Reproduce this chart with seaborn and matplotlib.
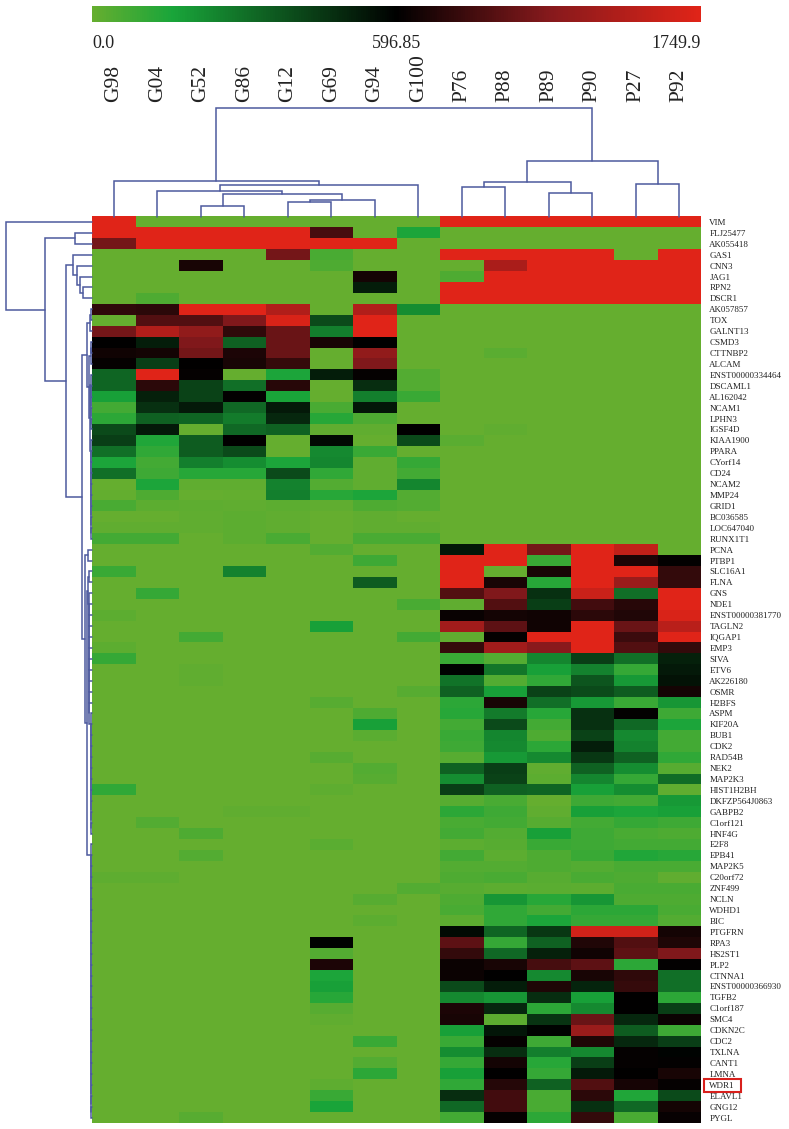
#!/usr/bin/env python3
import matplotlib
matplotlib.use('Agg')
import matplotlib.pyplot as plt
import matplotlib.colors as mcolors
from matplotlib.patches import Rectangle
import pandas as pd
import numpy as np
import seaborn as sns

samples = ['G98', 'G04', 'G52', 'G86', 'G12', 'G69', 'G94', 'G100',
           'P76', 'P88', 'P89', 'P90', 'P27', 'P92']

genes = ['VIM', 'FLJ25477', 'AK055418', 'GAS1', 'CNN3', 'JAG1', 'RPN2', 'DSCR1',
         'AK057857', 'TOX', 'GALNT13', 'CSMD3', 'CTTNBP2', 'ALCAM',
         'ENST00000334464', 'DSCAML1', 'AL162042', 'NCAM1', 'LPHN3', 'IGSF4D',
         'KIAA1900', 'PPARA', 'CYorf14', 'CD24', 'NCAM2', 'MMP24', 'GRID1',
         'BC036585', 'LOC647040', 'RUNX1T1', 'PCNA', 'PTBP1', 'SLC16A1', 'FLNA',
         'GNS', 'NDE1', 'ENST00000381770', 'TAGLN2', 'IQGAP1', 'EMP3', 'SIVA',
         'ETV6', 'AK226180', 'OSMR', 'H2BFS', 'ASPM', 'KIF20A', 'BUB1', 'CDK2',
         'RAD54B', 'NEK2', 'MAP2K3', 'HIST1H2BH', 'DKFZP564J0863', 'GABPB2',
         'C1orf121', 'HNF4G', 'E2F8', 'EPB41', 'MAP2K5', 'C20orf72', 'ZNF499',
         'NCLN', 'WDHD1', 'BIC', 'PTGFRN', 'RPA3', 'HS2ST1', 'PLP2', 'CTNNA1',
         'ENST00000366930', 'TGFB2', 'C1orf187', 'SMC4', 'CDKN2C', 'CDC2',
         'TXLNA', 'CANT1', 'LMNA', 'WDR1', 'ELAVL1', 'GNG12', 'PYGL']

# expression, one row per gene
g_values = [
    [1750, 0, 0, 0, 0, 0, 0, 0],
    [1750, 1750, 1750, 1750, 1750, 900, 0, 150],
    [1100, 1750, 1750, 1750, 1750, 1750, 1750, 0],
    [0, 0, 0, 0, 1100, 60, 0, 0],
    [0, 0, 700, 0, 0, 50, 0, 0],
    [0, 0, 0, 0, 0, 0, 680, 0],
    [0, 0, 0, 0, 0, 0, 520, 0],
    [0, 50, 0, 0, 0, 0, 0, 0],
    [800, 780, 1750, 1750, 1450, 0, 1450, 220],
    [0, 950, 950, 1150, 1700, 400, 1750, 0],
    [1100, 1450, 1250, 800, 1050, 260, 1750, 0],
    [600, 520, 1150, 340, 1050, 700, 600, 0],
    [660, 680, 1100, 720, 1050, 0, 1250, 0],
    [620, 430, 600, 700, 830, 0, 1150, 0],
    [330, 1750, 620, 0, 150, 520, 620, 40],
    [330, 780, 420, 300, 760, 0, 480, 40],
    [170, 510, 420, 610, 160, 0, 260, 90],
    [70, 470, 530, 320, 530, 60, 540, 0],
    [120, 340, 330, 270, 490, 130, 50, 0],
    [400, 530, 0, 320, 340, 10, 10, 600],
    [430, 140, 350, 600, 0, 570, 0, 400],
    [300, 110, 350, 400, 0, 230, 90, 0],
    [150, 70, 260, 220, 150, 240, 10, 100],
    [300, 80, 130, 130, 400, 110, 10, 70],
    [0, 150, 10, 10, 250, 40, 10, 240],
    [5, 50, 0, 5, 260, 130, 150, 40],
    [60, 20, 15, 10, 20, 10, 50, 40],
    [0, 0, 10, 20, 10, 0, 10, 0],
    [10, 10, 10, 20, 10, 0, 10, 10],
    [70, 70, 0, 20, 60, 0, 60, 60],
    [0, 0, 0, 0, 0, 40, 0, 0],
    [0, 0, 0, 0, 0, 0, 80, 0],
    [90, 0, 0, 250, 0, 0, 0, 0],
    [0, 0, 0, 0, 0, 0, 350, 0],
    [0, 100, 0, 0, 0, 0, 0, 0],
    [0, 0, 0, 0, 0, 0, 0, 60],
    [20, 0, 0, 0, 0, 0, 0, 0],
    [0, 0, 0, 0, 0, 170, 0, 0],
    [0, 0, 70, 0, 0, 0, 0, 70],
    [20, 0, 0, 0, 0, 0, 0, 0],
    [100, 0, 0, 0, 0, 0, 0, 0],
    [0, 0, 10, 0, 0, 0, 0, 0],
    [0, 0, 10, 0, 0, 0, 0, 0],
    [0, 0, 0, 0, 0, 0, 0, 30],
    [0, 0, 0, 0, 0, 30, 0, 0],
    [0, 0, 0, 0, 0, 0, 50, 0],
    [0, 0, 0, 0, 0, 0, 170, 0],
    [0, 0, 0, 0, 0, 0, 25, 0],
    [0, 0, 0, 0, 0, 0, 0, 0],
    [0, 0, 0, 0, 0, 30, 0, 0],
    [0, 0, 0, 0, 0, 0, 40, 0],
    [0, 0, 0, 0, 0, 0, 30, 0],
    [110, 0, 0, 0, 0, 15, 0, 0],
    [0, 0, 0, 0, 0, 0, 0, 0],
    [0, 0, 0, 10, 10, 0, 0, 0],
    [0, 40, 0, 0, 0, 0, 0, 0],
    [0, 0, 50, 0, 0, 0, 0, 0],
    [0, 0, 0, 0, 0, 25, 0, 0],
    [0, 0, 40, 0, 0, 0, 0, 0],
    [0, 0, 0, 0, 0, 0, 0, 0],
    [15, 15, 0, 0, 0, 0, 0, 0],
    [0, 0, 0, 0, 0, 0, 0, 40],
    [0, 0, 0, 0, 0, 0, 30, 0],
    [0, 0, 0, 0, 0, 0, 0, 0],
    [0, 0, 0, 0, 0, 0, 20, 0],
    [0, 0, 0, 0, 0, 0, 0, 0],
    [0, 0, 0, 0, 0, 590, 0, 0],
    [0, 0, 0, 0, 0, 40, 0, 0],
    [0, 0, 0, 0, 0, 720, 0, 0],
    [0, 0, 0, 0, 0, 150, 0, 0],
    [0, 0, 0, 0, 0, 170, 0, 0],
    [0, 0, 0, 0, 0, 130, 0, 0],
    [0, 0, 0, 0, 0, 30, 0, 0],
    [0, 0, 0, 0, 0, 10, 0, 0],
    [0, 0, 0, 0, 0, 0, 0, 0],
    [0, 0, 0, 0, 0, 0, 90, 0],
    [0, 0, 0, 0, 0, 0, 0, 0],
    [0, 0, 0, 0, 0, 0, 40, 0],
    [0, 0, 0, 0, 0, 0, 120, 0],
    [0, 0, 0, 0, 0, 15, 0, 0],
    [0, 0, 0, 0, 0, 90, 0, 0],
    [0, 0, 0, 0, 0, 160, 0, 0],
    [0, 0, 30, 0, 0, 0, 0, 0],
]

p_values = [
    [1750, 1750, 1750, 1750, 1750, 1750],
    [0, 0, 0, 0, 0, 0],
    [0, 0, 0, 0, 0, 0],
    [1750, 1750, 1750, 1750, 0, 1750],
    [0, 1400, 1750, 1750, 1750, 1750],
    [50, 1750, 1750, 1750, 1750, 1750],
    [1750, 1750, 1750, 1750, 1750, 1750],
    [1750, 1750, 1750, 1750, 1750, 1750],
    [0, 0, 0, 0, 0, 0],
    [0, 0, 0, 0, 0, 0],
    [0, 0, 0, 0, 0, 0],
    [0, 0, 0, 0, 0, 0],
    [0, 25, 0, 0, 0, 0],
    [0, 0, 0, 0, 0, 0],
    [0, 0, 0, 0, 0, 0],
    [0, 0, 0, 0, 0, 0],
    [0, 0, 0, 0, 0, 0],
    [0, 0, 0, 0, 0, 0],
    [0, 0, 0, 0, 0, 0],
    [0, 10, 0, 0, 0, 0],
    [25, 0, 0, 0, 0, 0],
    [0, 0, 0, 0, 0, 0],
    [0, 0, 0, 0, 0, 0],
    [0, 0, 0, 0, 0, 0],
    [0, 0, 0, 0, 0, 0],
    [0, 0, 0, 0, 0, 0],
    [0, 0, 0, 0, 0, 0],
    [0, 0, 0, 0, 0, 0],
    [0, 0, 0, 0, 0, 0],
    [0, 0, 0, 0, 0, 0],
    [540, 1750, 1100, 1750, 1550, 0],
    [1750, 1750, 90, 1750, 720, 610],
    [1750, 0, 700, 1750, 1750, 820],
    [1750, 700, 130, 1750, 1300, 820],
    [950, 1150, 470, 1600, 300, 1750],
    [10, 950, 430, 880, 760, 1750],
    [640, 680, 660, 780, 740, 1700],
    [1350, 1000, 660, 1750, 1050, 1500],
    [10, 620, 1750, 1750, 850, 1750],
    [830, 1350, 1200, 1750, 950, 820],
    [90, 40, 240, 430, 300, 510],
    [590, 280, 170, 250, 100, 530],
    [290, 40, 110, 370, 190, 550],
    [340, 170, 420, 400, 350, 680],
    [120, 700, 300, 190, 90, 200],
    [130, 270, 130, 470, 610, 80],
    [70, 400, 70, 470, 320, 150],
    [90, 240, 50, 420, 230, 70],
    [80, 230, 120, 520, 250, 70],
    [30, 190, 230, 450, 340, 110],
    [340, 430, 10, 340, 220, 30],
    [220, 420, 20, 240, 100, 310],
    [430, 340, 330, 170, 220, 10],
    [30, 60, 0, 80, 70, 190],
    [120, 80, 10, 170, 150, 170],
    [60, 70, 30, 70, 100, 80],
    [70, 40, 170, 80, 60, 50],
    [20, 30, 90, 80, 70, 70],
    [70, 20, 50, 90, 140, 130],
    [40, 40, 50, 40, 60, 60],
    [50, 60, 30, 60, 50, 10],
    [30, 20, 25, 20, 60, 60],
    [50, 200, 130, 200, 50, 50],
    [60, 110, 70, 120, 120, 60],
    [20, 110, 150, 100, 100, 40],
    [570, 330, 450, 1650, 1650, 680],
    [1000, 100, 340, 740, 950, 730],
    [820, 320, 510, 660, 1000, 1150],
    [650, 700, 900, 1000, 120, 610],
    [650, 600, 230, 700, 800, 300],
    [400, 520, 730, 500, 830, 300],
    [230, 200, 480, 170, 600, 120],
    [720, 490, 120, 230, 600, 430],
    [700, 20, 460, 1050, 490, 650],
    [170, 540, 590, 1300, 350, 80],
    [90, 620, 80, 730, 490, 430],
    [220, 480, 260, 230, 620, 590],
    [100, 680, 130, 430, 620, 610],
    [170, 600, 100, 530, 600, 700],
    [110, 750, 340, 950, 690, 620],
    [480, 880, 60, 780, 140, 400],
    [320, 880, 60, 470, 320, 680],
    [70, 620, 120, 820, 60, 630],
]

scale_ticks = [0.0, 596.85, 1749.9]
scale_labels = ['0.0', '596.85', '1749.9']

# merges as (first, split, last, height): first..split joins split+1..last
col_merges = [
    (2, 2, 3, 10.7), (4, 4, 5, 14.3), (4, 5, 6, 16.3), (2, 3, 6, 22.7),
    (1, 1, 6, 26), (1, 6, 7, 32), (0, 0, 7, 36), (8, 8, 9, 29.3),
    (10, 10, 11, 24), (8, 9, 11, 35), (12, 12, 13, 33), (8, 11, 13, 56),
    (0, 7, 13, 108.3),
]


def chain(first, last, end, height):
    """Comb of single rows, each joining the cluster below it."""
    return [(k, k, end, height) for k in range(last, first - 1, -1)]


row_merges = (
    [(1, 1, 2, 17.5), (6, 6, 7, 8.7), (5, 5, 7, 12), (4, 4, 7, 14.7), (3, 3, 7, 18.7)]
    + [(8, 8, 9, 1.2), (8, 9, 10, 2), (11, 11, 12, 1), (11, 12, 13, 1.5)]
    + chain(14, 18, 19, 1.5) + chain(20, 28, 29, 1.2)
    + [(14, 19, 29, 2), (11, 13, 29, 3), (8, 10, 29, 5.3)]
    + chain(45, 55, 56, 1.4) + chain(37, 44, 56, 2.6) + chain(34, 36, 56, 3)
    + [(32, 32, 33, 3.2), (32, 33, 56, 3.6)]
    + chain(57, 81, 82, 1.5)
    + [(32, 56, 82, 5.3), (30, 30, 31, 3.7), (30, 31, 82, 7), (8, 29, 82, 10.3),
       (3, 7, 82, 26), (1, 2, 82, 47), (0, 0, 82, 86)]
)

W, H = 789, 1129
TREE_COLOR = '#4d5a9e'


def px_axes(fig, left, top, right, bottom):
    return fig.add_axes([left / W, 1 - bottom / H, (right - left) / W, (bottom - top) / H])


def draw_tree(ax, merges, n, horizontal):
    """Draw a dendrogram; leaves sit on the cell centres."""
    nodes = {(i, i): (i + 0.5, 0.0) for i in range(n)}
    for first, split, last, height in merges:
        pos_a, h_a = nodes[(first, split)]
        pos_b, h_b = nodes[(split + 1, last)]
        pos = [pos_a, pos_a, pos_b, pos_b]
        hts = [h_a, height, height, h_b]
        xs, ys = (hts, pos) if horizontal else (pos, hts)
        ax.plot(xs, ys, color=TREE_COLOR, lw=1.1, clip_on=False, solid_joinstyle='miter')
        nodes[(first, last)] = ((pos_a + pos_b) / 2, height)


sns.set_theme(style='white')
plt.rcParams['font.family'] = ['Liberation Serif', 'DejaVu Serif']

df = pd.DataFrame(np.hstack([np.array(g_values), np.array(p_values)]).astype(float),
                  index=genes, columns=samples)

cmap = mcolors.LinearSegmentedColormap.from_list('expr', [
    (0.0, '#65ae2f'), (0.13, '#19a53a'), (0.5, '#000000'),
    (0.75, '#85191c'), (1.0, '#e02418')])
norm = mcolors.TwoSlopeNorm(vmin=0, vcenter=596.85, vmax=1749.9)

fig = plt.figure(figsize=(W / 100, H / 100), dpi=100, facecolor='white')
ax = px_axes(fig, 92, 216.5, 701, 1123)
cax = px_axes(fig, 92, 5.5, 701, 22)

sns.heatmap(df, ax=ax, cmap=cmap, norm=norm, cbar_ax=cax, linewidths=0,
            cbar_kws={'orientation': 'horizontal'},
            xticklabels=False, yticklabels=genes)
ax.set_xlabel('')
ax.set_ylabel('')
ax.yaxis.tick_right()
ax.tick_params(axis='y', length=0, pad=6, labelsize=6.5, labelrotation=0)
for label in ax.get_yticklabels():
    label.set_color('#222222')

cbar = ax.collections[0].colorbar
cbar.outline.set_visible(False)
cbar.set_ticks(scale_ticks, labels=scale_labels)
cbar.ax.tick_params(axis='x', length=0, pad=9.5, labelsize=13, labelcolor='#222222')
for label, ha in zip(cbar.ax.get_xticklabels(), ['left', 'center', 'right']):
    label.set_ha(ha)

# column tree, its tick labels carry the sample names
top_ax = px_axes(fig, 92, 107.7, 701, 216.5)
draw_tree(top_ax, col_merges, len(samples), horizontal=False)
top_ax.set_xlim(0, len(samples))
top_ax.set_ylim(0, 108.8)
top_ax.set_frame_on(False)
top_ax.set_yticks([])
top_ax.set_xticks(np.arange(len(samples)) + 0.5, labels=samples, rotation=90)
top_ax.xaxis.tick_top()
top_ax.tick_params(axis='x', length=0, pad=4, labelsize=15.5, labelcolor='#222222')

# row tree
left_ax = px_axes(fig, 0, 216.5, 92, 1123)
draw_tree(left_ax, row_merges, len(genes), horizontal=True)
left_ax.set_xlim(92, 0)
left_ax.set_ylim(len(genes), 0)
left_ax.axis('off')

# box around WDR1
fig.add_artist(Rectangle((703.5 / W, 1 - 1092 / H), 37.5 / W, 13 / H, transform=fig.transFigure,
                         fill=False, edgecolor='#d8201c', lw=1.5))

fig.savefig('out.png', dpi=100, facecolor='white')
